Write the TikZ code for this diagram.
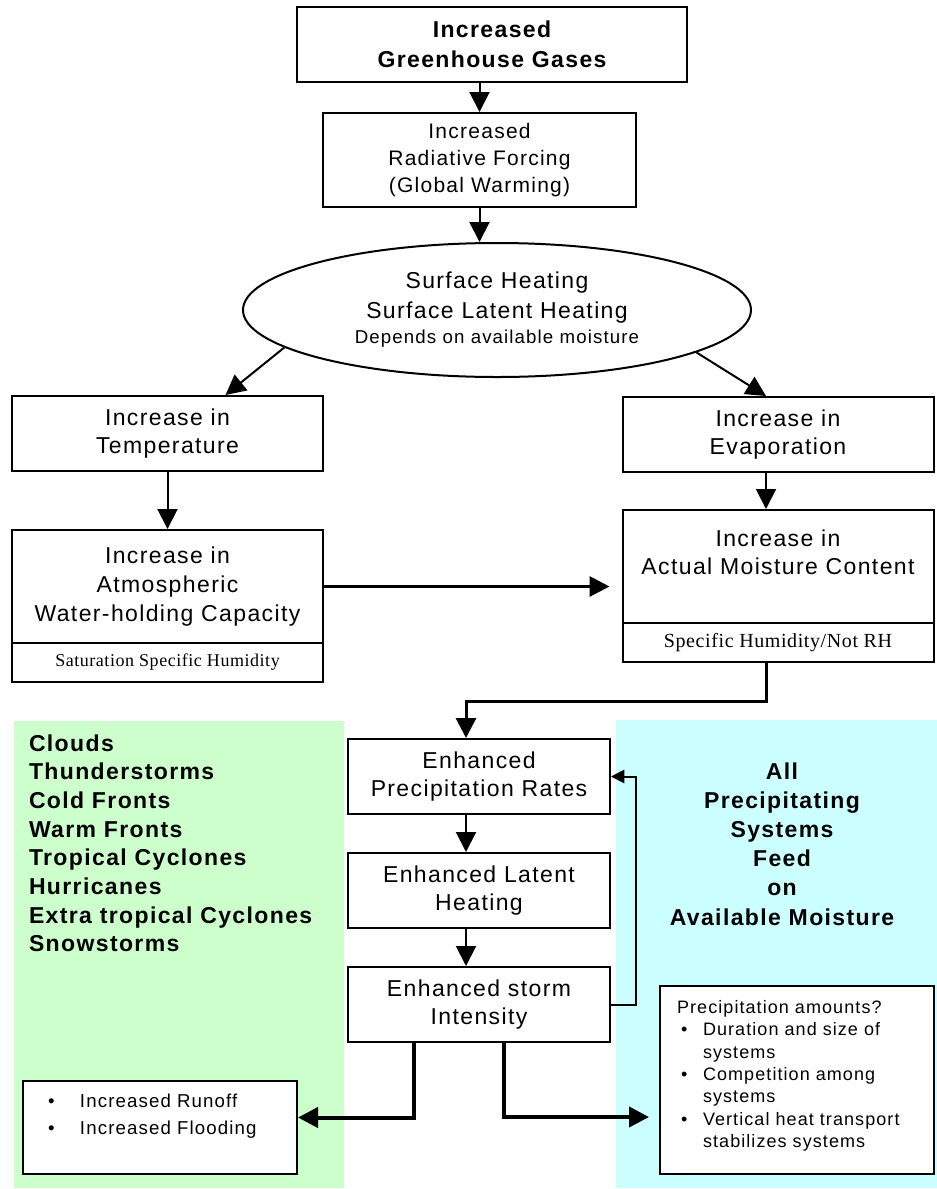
\documentclass[tikz,border=0pt]{standalone}
\usepackage{fontspec}
\setmainfont{Liberation Sans}[LetterSpace=6]
\newfontfamily\humfont{Liberation Serif}[LetterSpace=3]
\usepackage{tikz}
\usetikzlibrary{shapes.geometric,arrows.meta,positioning,calc}
\definecolor{typegreen}{RGB}{204,255,204}
\definecolor{feedcyan}{RGB}{204,255,255}
\def\boxwidth{233.25pt}
\def\stackgap{27.75pt}
\newcommand{\bul}[1]{\makebox[#1][l]{\textbullet}}

\begin{document}
\begin{tikzpicture}[x=0.75pt,y=-0.75pt,line width=1.5pt,>={Triangle[length=15pt,width=15pt]}]
    \tikzstyle{block}=[draw,rectangle,fill=white,inner sep=0pt,align=center,minimum width=\boxwidth,minimum height=56.25pt,font=\fontsize{17.25}{21.5}\selectfont]
    \tikzstyle{title block}=[block,minimum width=292.5pt,font=\fontsize{17.25}{22.5}\selectfont\bfseries]
    \tikzstyle{middle block}=[block,minimum width=196.5pt]
    \tikzstyle{humidity box}=[block,minimum height=29.25pt,font=\humfont\fontsize{13.5}{16}\selectfont]
    \tikzstyle{list box}=[block,minimum width=205.5pt,align=left,font=\fontsize{14}{20}\selectfont]
    \tikzstyle{panel}=[rectangle,inner sep=0pt,anchor=north west]
    \tikzstyle{storm type}=[anchor=base west,inner sep=0pt,font=\fontsize{17.25}{20}\selectfont\bfseries]
    \tikzstyle{feed line}=[anchor=base,inner sep=0pt,font=\fontsize{17.25}{20}\selectfont\bfseries]
    \tikzstyle{thick link}=[->,line width=3pt]

    \useasboundingbox (0,0) rectangle (936,1189);

    % Draw the coloured panels
    \node[panel,fill=typegreen,minimum width=247.5pt,minimum height=350.25pt] (types) at (13,720) {};
    \node[panel,fill=feedcyan,minimum width=240.75pt,minimum height=351pt] (supply) at (615,719) {};

    % Draw the upper chain
    \node[title block] (ghg) at (492,44.5) {Increased\\Greenhouse Gases};
    \node[block,minimum width=234.75pt,minimum height=70.5pt,font=\fontsize{15.75}{20.25}\selectfont] (rf) at (479.5,160) {Increased\\Radiative Forcing\\(Global Warming)};
    \node[ellipse,draw,inner sep=0pt,minimum width=381pt,minimum height=100.5pt,align=center,font=\fontsize{17.25}{22.5}\selectfont] (surf) at (497,310) {Surface Heating\\Surface Latent Heating\\[-3.75pt]{\fontsize{14}{16}\selectfont Depends on available moisture}};

    % Draw the two columns
    \node[block] (temp) at (167.5,433.5) {Increase in\\Temperature};
    \node[block] (evap) at (778,434.5) {Increase in\\Evaporation};
    \node[block,minimum height=84.75pt] (atmo) at (167.5,586.5) {Increase in\\Atmospheric\\Water-holding Capacity};
    \node[humidity box,below=-1.5pt of atmo] (sat) {Saturation Specific Humidity};
    \node[block,minimum height=84.75pt] (moist) at (778,566.5) {Increase in\\Actual Moisture Content\\\mbox{}};
    \node[humidity box,below=-1.5pt of moist,font=\humfont\fontsize{15}{18}\selectfont] (shum) {Specific Humidity/Not RH};

    % Draw the storm chain
    \node[middle block] (precip) at (479,776.5) {Enhanced\\Precipitation Rates};
    \node[middle block,below=\stackgap of precip] (latent) {Enhanced Latent\\Heating};
    \node[middle block,below=\stackgap of latent] (storm) {Enhanced storm\\Intensity};

    % Draw the outcome boxes
    \node[list box,minimum height=69.75pt,text width=168pt,inner xsep=18.75pt] (runoff) at (160,1127.5)
        {\bul{24pt}Increased Runoff\\\bul{24pt}Increased Flooding\\\mbox{}};
    \node[list box,minimum height=141pt,text width=180pt,inner xsep=12.75pt,font=\fontsize{13.5}{16.8}\selectfont] (amounts) at (797,1080)
        {Precipitation amounts?\\
         \hspace*{3pt}\bul{16.5pt}Duration and size of\\
         \hspace*{19.5pt}systems\\
         \hspace*{3pt}\bul{16.5pt}Competition among\\
         \hspace*{19.5pt}systems\\
         \hspace*{3pt}\bul{16.5pt}Vertical heat transport\\
         \hspace*{19.5pt}stabilizes systems\\[-7.8pt]\mbox{}};

    % Annotate the panels
    \foreach \name [count=\i] in {Clouds,Thunderstorms,Cold Fronts,Warm Fronts,Tropical Cyclones,Hurricanes,Extra tropical Cyclones,Snowstorms}
        \node[storm type] (T-\i) at (28,{722.3+28.7*\i}) {\name};
    \foreach \name [count=\i] in {All,Precipitating,Systems,Feed,on,Available Moisture}
        \node[feed line] (F-\i) at (782,{749.8+29.2*\i}) {\name};

    % Connect the boxes
    \coordinate (mcol) at (466,0);
    \coordinate (rcol) at (766,0);
    \coordinate (lbranch) at (414,0);
    \coordinate (rbranch) at (504,0);
    \draw[->] (ghg.south -| rf.north) -- (rf.north);
    \draw[->] (rf.south) -- (rf.south |- surf.north);
    \draw[->] (surf.190) -- ($(temp.north)+(58,0)$);
    \draw[->] (surf.348) -- ($(evap.north)+(-12,0)$);
    \draw[->] (temp.south) -- (atmo.north);
    \draw[->] (evap.south -| rcol) -- (moist.north -| rcol);
    \draw[->,line width=2.25pt,shorten >=9pt] (atmo.east) -- (moist.west |- atmo.east);
    \draw[->,line width=2.25pt] (shum.south -| rcol) -- ++(0,38) -| (precip.north -| mcol);
    \draw[->] (precip.south -| mcol) -- (latent.north -| mcol);
    \draw[->] (latent.south -| mcol) -- (storm.north -| mcol);
    \draw[->,>={Triangle[length=10pt,width=10pt]}] (storm.east) -- ++(25,0) |- (precip.east);
    \draw[thick link] (storm.south -| lbranch) |- ($(runoff.east)+(0,-10)$);
    \draw[thick link] (storm.south -| rbranch) |- ($(amounts.west)+(-10,37)$);
\end{tikzpicture}
\end{document}
